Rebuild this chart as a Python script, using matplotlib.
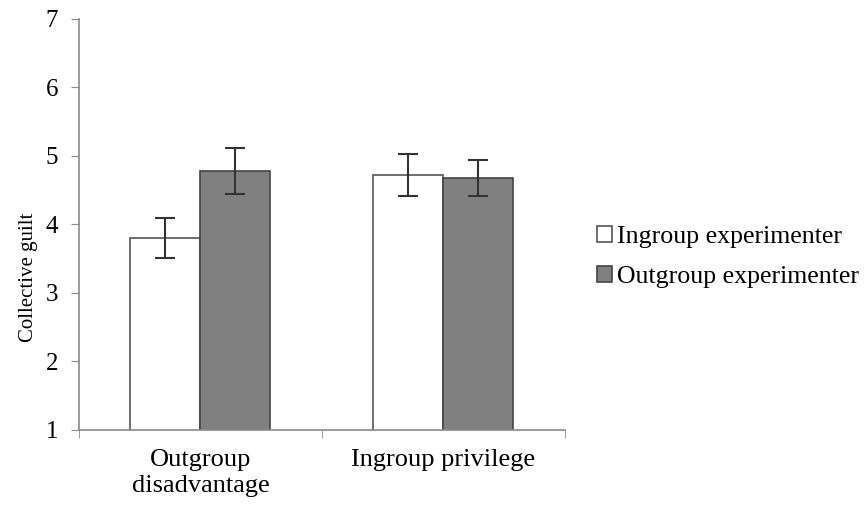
import matplotlib.pyplot as plt
import numpy as np

# values
conditions = ["Outgroup\ndisadvantage", "Ingroup privilege"]
ingroup_means = [3.80, 4.72]
ingroup_err = [0.29, 0.31]
outgroup_means = [4.78, 4.68]
outgroup_err = [0.34, 0.26]
series_labels = ["Ingroup experimenter", "Outgroup experimenter"]

plt.rcParams['font.family'] = ['Liberation Serif', 'DejaVu Serif']

fig = plt.figure(figsize=(8.66, 5.07), dpi=100)
ax = fig.add_axes([0.0912, 0.152, 0.561, 0.811])

ind = np.arange(len(conditions))
width = 0.288
axis_col = '#8a8a8a'

ax.bar(ind - width / 2, ingroup_means, width, color='white',
       edgecolor='#555555', linewidth=1.2, label=series_labels[0],
       yerr=ingroup_err, error_kw=dict(ecolor='#333333', elinewidth=1.5,
                                       capsize=7, capthick=1.5))
ax.bar(ind + width / 2, outgroup_means, width, color='#808080',
       edgecolor='#444444', linewidth=1.2, label=series_labels[1],
       yerr=outgroup_err, error_kw=dict(ecolor='#333333', elinewidth=1.5,
                                        capsize=7, capthick=1.5))

ax.set_ylim(1, 7)
ax.set_xlim(-0.5, 1.5)
ax.set_yticks(range(1, 8))
ax.set_xticks(ind)
ax.set_xticklabels(conditions, fontsize=19, linespacing=1.2)
ax.set_xticks([-0.5, 0.5, 1.5], minor=True)
ax.tick_params(axis='x', which='major', length=0, pad=14)
ax.tick_params(axis='x', which='minor', length=6, color=axis_col, direction='out')
ax.tick_params(axis='y', length=6, color=axis_col, labelsize=18, pad=9)
ax.set_ylabel("Collective guilt", fontsize=15)
ax.yaxis.set_label_coords(-0.085, 0.37)

for s in ['top', 'right']:
    ax.spines[s].set_visible(False)
for s in ['left', 'bottom']:
    ax.spines[s].set_color(axis_col)
    ax.spines[s].set_linewidth(1.2)

leg = ax.legend(loc='center left', bbox_to_anchor=(1.03, 0.42), frameon=False,
                fontsize=18.6, handlelength=0.55, handleheight=0.55,
                handletextpad=0.2, labelspacing=0.7, borderaxespad=0.3)

fig.savefig("out.png", dpi=100)
